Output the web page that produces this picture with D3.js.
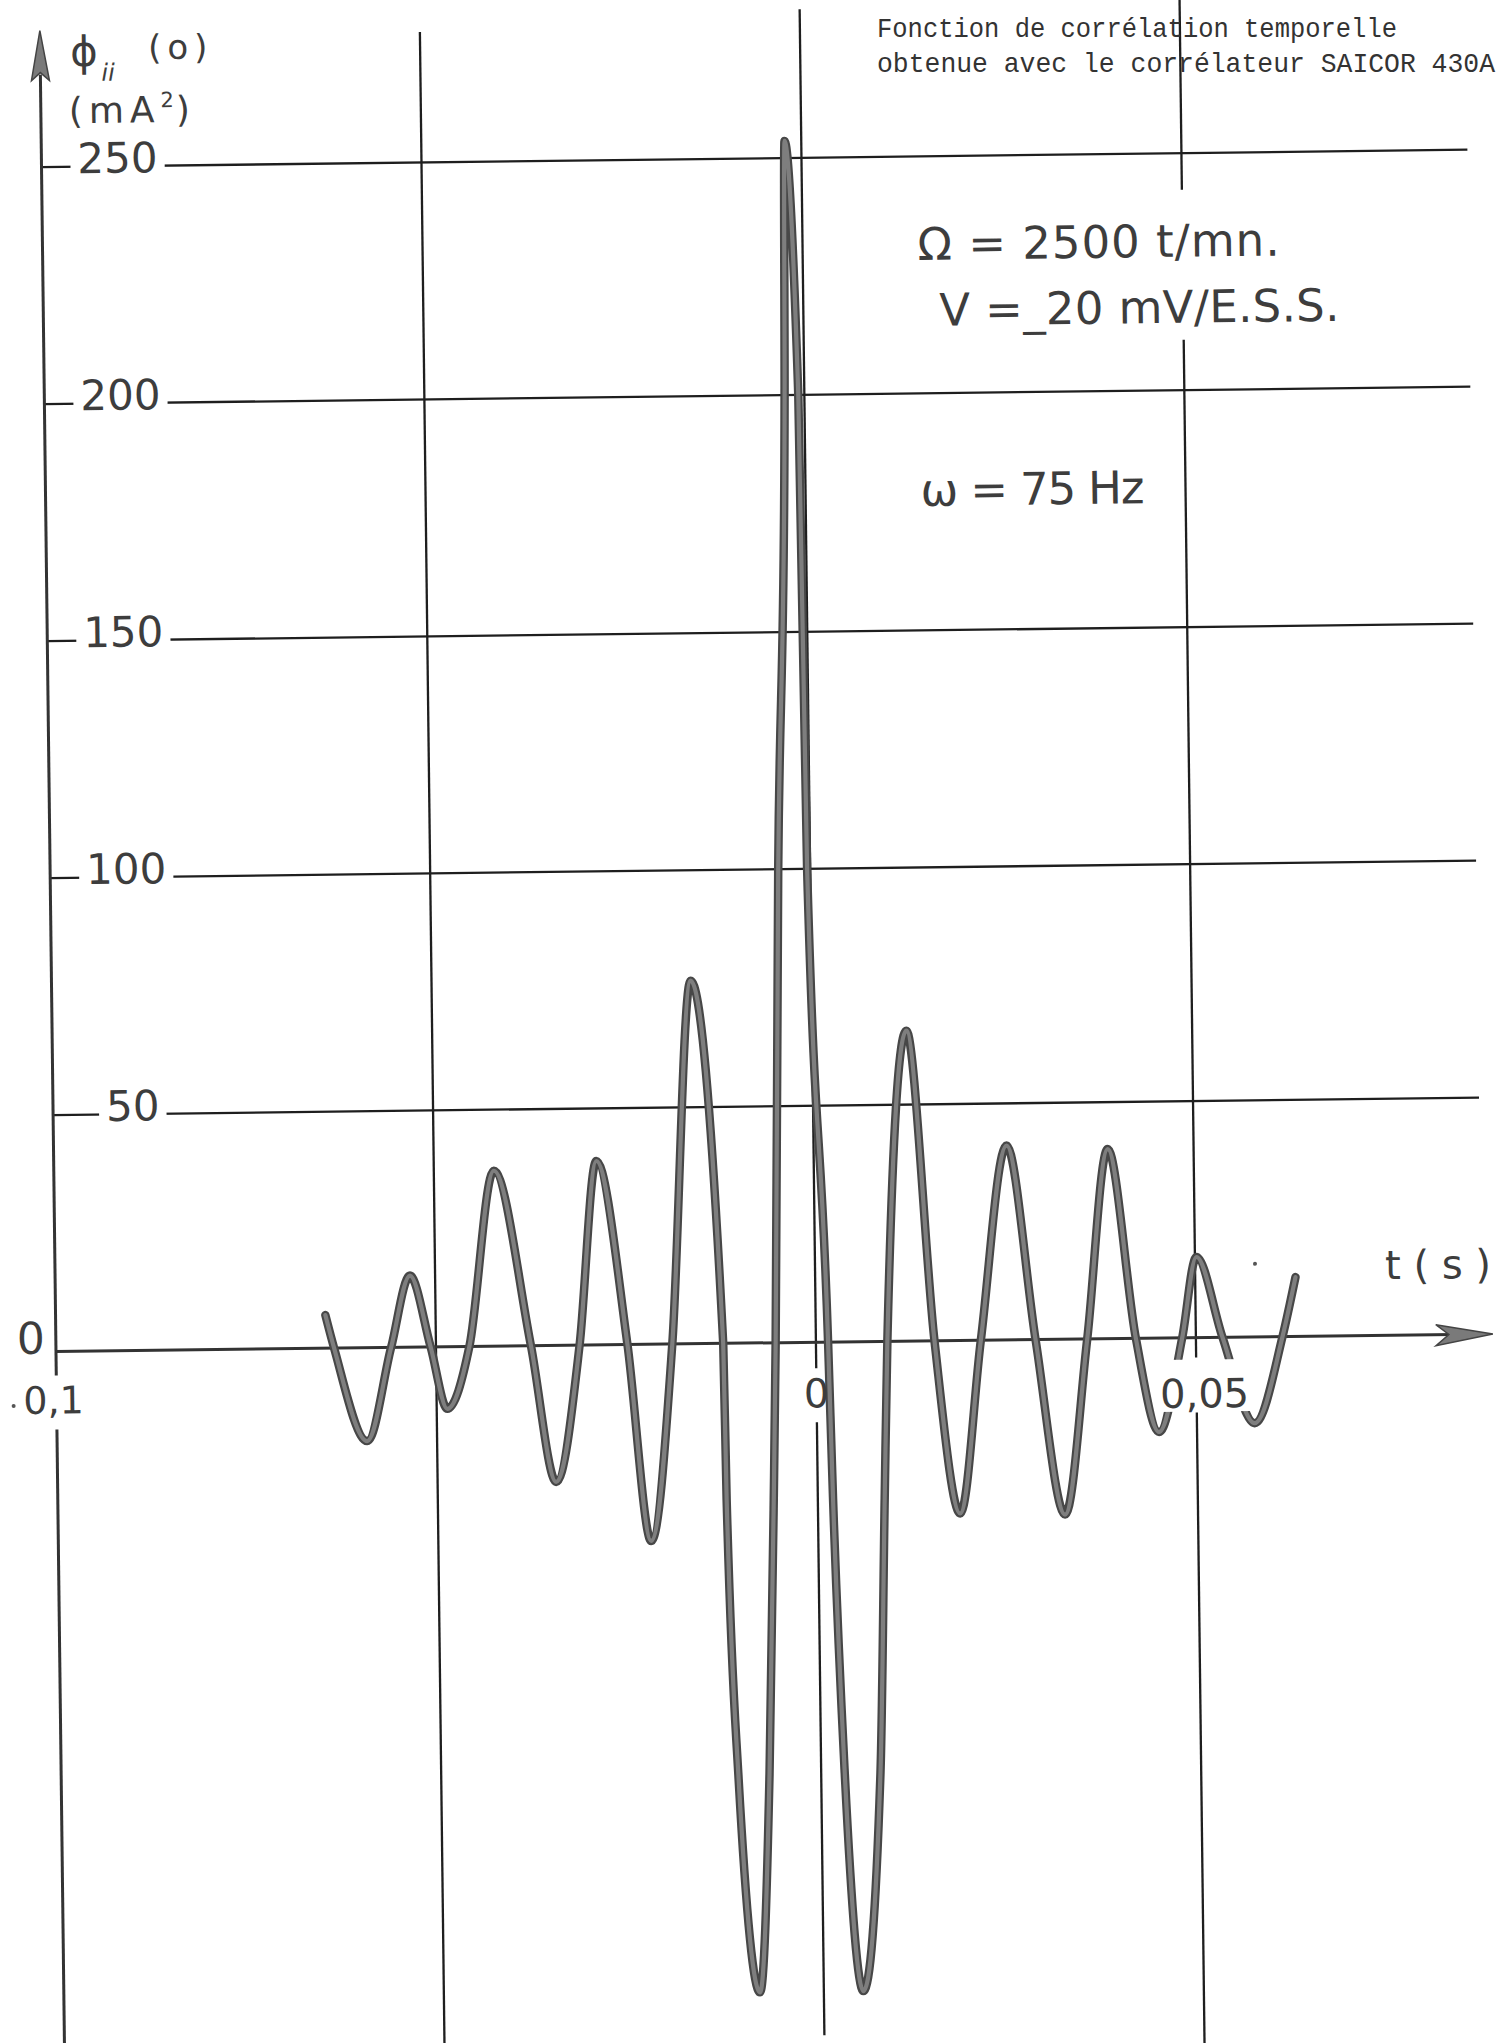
<!DOCTYPE html>
<html><head><meta charset="utf-8">
<script src="https://cdn.jsdelivr.net/npm/d3@7"></script>
<style>html,body{margin:0;padding:0;background:#fff;} svg{display:block;}</style>
</head><body>
<script>
// ---- data ----
const tValues = [-0.0645,-0.0634,-0.0592,-0.0559,-0.0533,-0.0507,-0.0486,-0.0456,-0.0421,-0.0375,
  -0.0344,-0.0311,-0.0286,-0.0248,-0.0220,-0.0189,-0.0159,-0.0122,-0.0120,-0.0109,
  -0.0084,-0.0068,-0.0058,-0.0053,-0.0042,-0.0026,-0.0022,-0.0008,-0.0004,0.0016,
  0.0020,0.0031,0.0052,0.0078,0.0088,0.0094,0.0124,0.0156,0.0187,0.0217,
  0.0254,0.0289,0.0325,0.0357,0.0387,0.0421,0.0450,0.0482,0.0502,0.0535,
  0.0576,0.0614,0.0632];
const phiValues = [7,0,-19.7,0,15.1,0,-13.1,0,37,0,
  -28.8,0,38.8,0,-41.5,0,76.6,0,-33,-91,
  -137,-91,-33,0,100,200,253.5,200,100,0,
  -33,-91,-137,-91,-33,0,65.5,0,-36.5,0,
  41,0,-37,0,40,0,-19.8,0,17,0,
  -18.2,0,12.5];
const yTicks = [50,100,150,200,250];
const yTickLabels = ["50","100","150","200","250"];
const xTicks = [-0.1,-0.05,0,0.05];
const xTickLabels = ["0,1","","0","0,05"];
const noteLines = ["Fonction de corrélation temporelle","obtenue avec le corrélateur SAICOR 430A"];
const paramLines = ["Ω = 2500 t/mn.","V =_20 mV/E.S.S.","ω = 75 Hz"];

// ---- layout ----
const W = 1502, H = 2043;
const svg = d3.select("body").append("svg").attr("width", W).attr("height", H);
svg.append("rect").attr("width", W).attr("height", H).attr("fill", "#fff");
const g = svg.append("g").attr("transform", "rotate(-0.7,751,1021)");

const x = d3.scaleLinear().domain([-0.1, 0.05]).range([52, 1192]);
const y = d3.scaleLinear().domain([0, 250]).range([1343, 158]);
const handFont = "'DejaVu Sans', 'Noto Sans', sans-serif";
const ink = "#3d3d3d";

// horizontal grid lines via axis
const grid = g.append("g").attr("transform", `translate(${x(-0.1)},0)`)
  .call(d3.axisRight(y).tickValues(yTicks).tickSize(1478 - x(-0.1)).tickFormat(""));
grid.select(".domain").remove();
grid.selectAll("text").remove();
grid.selectAll("line").attr("stroke", "#1e1e1e").attr("stroke-width", 2.3);

// vertical lines with gaps (segments)
const vSegs = {
  "-0.1": [[66, 1367], [1421, 2075]],
  "-0.05": [[28, 2075]],
  "0": [[10, 1369], [1423, 2036]],
  "0.05": [[-10, 195], [345, 1363], [1418, 2075]]
};
xTicks.forEach(t => {
  vSegs[String(t)].forEach(s => {
    g.append("line").attr("x1", x(t)).attr("x2", x(t)).attr("y1", s[0]).attr("y2", s[1])
      .attr("stroke", t === -0.1 ? "#333" : "#1e1e1e").attr("stroke-width", t === -0.1 ? 3 : 2.3);
  });
});

// y axis arrow head
const ax0 = x(-0.1);
g.append("path").attr("d", `M${ax0},22 L${ax0 - 9},72 L${ax0},64 L${ax0 + 9},72 Z`)
  .attr("fill", "#7a7a7a").attr("stroke", "#444").attr("stroke-width", 1.5);

// x axis (t)
g.append("line").attr("x1", x(-0.1)).attr("x2", 1470).attr("y1", y(0)).attr("y2", y(0))
  .attr("stroke", "#333").attr("stroke-width", 3);
g.append("path").attr("d", `M1489,${y(0)} L1432,${y(0) - 10} L1445,${y(0)} L1432,${y(0) + 11} Z`)
  .attr("fill", "#7a7a7a").attr("stroke", "#444").attr("stroke-width", 1.5);

// curve
const pts = tValues.map((t, i) => [t, phiValues[i]]);
const line = d3.line().x(d => x(d[0])).y(d => y(d[1])).curve(d3.curveMonotoneX);
g.append("path").attr("d", line(pts)).attr("fill", "none").attr("stroke", "#474747")
  .attr("stroke-width", 8.5).attr("stroke-linecap", "round").attr("stroke-linejoin", "round");
g.append("path").attr("d", line(pts)).attr("fill", "none").attr("stroke", "#7e7e7e")
  .attr("stroke-width", 4.2).attr("stroke-linecap", "round").attr("stroke-linejoin", "round");

// labels layer
const lg = g.append("g");

// y tick labels with white boxes breaking the grid lines
yTicks.forEach((v, i) => {
  const lab = yTickLabels[i];
  const tx = 88 + (3 - lab.length) * 17;
  const box = lg.append("rect").attr("fill", "#fff");
  const txt = lg.append("text").attr("x", tx).attr("y", y(v) + 7)
    .attr("font-family", handFont).attr("font-size", 42).attr("fill", ink).text(lab);
  const bb = txt.node().getBBox();
  box.attr("x", bb.x - 7).attr("y", y(v) - 4).attr("width", bb.width + 14).attr("height", 8);
});

// x tick labels
const xLabPos = {"-0.1": [-3, 1405, 38], "0": [0, 1408, 40], "0.05": [8, 1413, 40]};
xTicks.forEach((t, i) => {
  const lab = xTickLabels[i];
  if (!lab) return;
  const p = xLabPos[String(t)];
  const box = lg.append("rect").attr("fill", "#fff");
  const txt = lg.append("text").attr("x", x(t) + p[0]).attr("y", p[1]).attr("text-anchor", "middle")
    .attr("font-family", handFont).attr("font-size", p[2]).attr("fill", ink).text(lab);
  if (t === 0.05) {
    const bb = txt.node().getBBox();
    box.attr("x", bb.x - 2).attr("y", 1365).attr("width", bb.width + 4).attr("height", 52);
  } else {
    box.remove();
  }
});
lg.append("circle").attr("cx", 9).attr("cy", 1397).attr("r", 2).attr("fill", "#555");

// y origin label
lg.append("text").attr("x", 27).attr("y", 1345).attr("text-anchor", "middle")
  .attr("font-family", handFont).attr("font-size", 44).attr("fill", ink).text("0");

// axis titles
lg.append("text").attr("x", 82).attr("y", 58).attr("font-family", handFont).attr("font-size", 42)
  .attr("fill", ink).text("ϕ");
lg.append("text").attr("x", 113).attr("y", 73).attr("font-family", handFont).attr("font-size", 24)
  .attr("font-style", "italic").attr("fill", ink).text("ii");
lg.append("text").attr("x", 160).attr("y", 52).attr("font-family", handFont).attr("font-size", 34)
  .attr("letter-spacing", 6).attr("fill", ink).text("(o)");
const yu = lg.append("text").attr("font-family", handFont).attr("fill", ink).attr("font-size", 36);
yu.append("tspan").attr("x", 80).attr("y", 115).attr("letter-spacing", 6).text("(mA");
yu.append("tspan").attr("dy", -15).attr("font-size", 21).text("2");
yu.append("tspan").attr("dy", 15).attr("dx", 2).text(")");

lg.append("text").attr("x", 1382).attr("y", 1287).attr("font-family", handFont).attr("font-size", 40)
  .attr("fill", ink).attr("textLength", 106).attr("lengthAdjust", "spacing").text("t(s)");
lg.append("circle").attr("cx", 1252).attr("cy", 1270).attr("r", 2).attr("fill", "#555");

// parameter annotations
const paramPos = [[927, 262, 45, 362], [948, 328, 45, 400], [927, 508, 45, 224]];
paramLines.forEach((s, i) => {
  const p = paramPos[i];
  lg.append("text").attr("x", p[0]).attr("y", p[1]).attr("font-family", handFont)
    .attr("font-size", p[2]).attr("fill", ink).attr("textLength", p[3]).attr("lengthAdjust", "spacing").text(s);
});

// typed note (not rotated); tall narrow typewriter look via vertical scale
const noteW = [520, 618];
noteLines.forEach((s, i) => {
  svg.append("text").attr("transform", `translate(877,${37 + i * 35}) scale(1,1.12)`)
    .attr("x", 0).attr("y", 0).attr("font-family", "'Liberation Mono', 'DejaVu Sans Mono', monospace")
    .attr("font-size", 25.5).attr("fill", "#333").attr("textLength", noteW[i]).attr("lengthAdjust", "spacingAndGlyphs").text(s);
});
</script>
</body></html>
